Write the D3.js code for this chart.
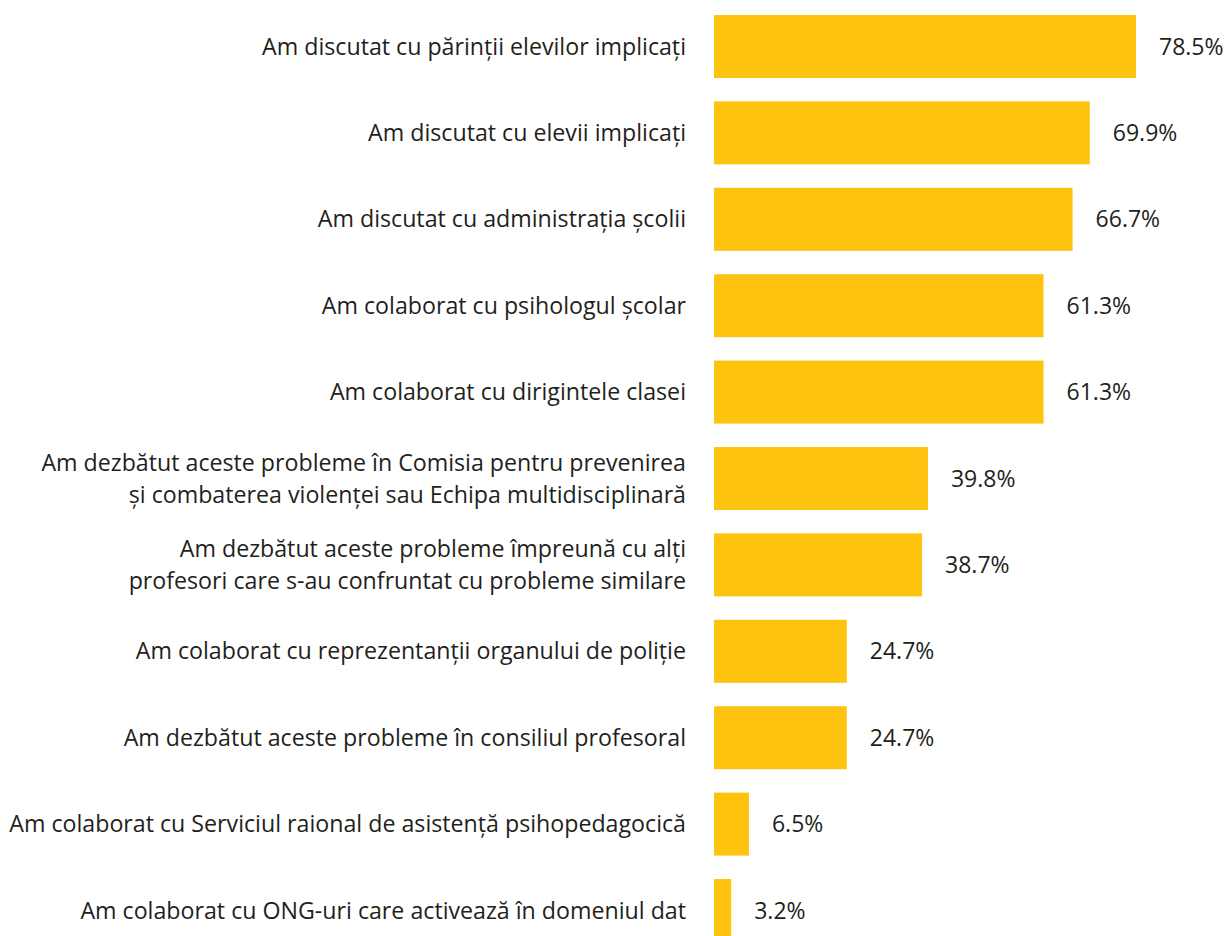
<!DOCTYPE html>
<html>
<head>
<meta charset="utf-8">
<script src="https://cdn.jsdelivr.net/npm/d3@7"></script>
<style>
  body { margin: 0; background: #fff; }
  .label { font-family: "Open Sans", sans-serif; font-size: 23.2px; fill: #231f20; }
  .value { font-family: "Open Sans", sans-serif; font-size: 23px; fill: #231f20; }
</style>
</head>
<body>
<div id="chart"></div>
<script>
// Data
var labels = [
  ["Am discutat cu părinții elevilor implicați"],
  ["Am discutat cu elevii implicați"],
  ["Am discutat cu administrația școlii"],
  ["Am colaborat cu psihologul școlar"],
  ["Am colaborat cu dirigintele clasei"],
  ["Am dezbătut aceste probleme în Comisia pentru prevenirea", "și combaterea violenței sau Echipa multidisciplinară"],
  ["Am dezbătut aceste probleme împreună cu alți", "profesori care s-au confruntat cu probleme similare"],
  ["Am colaborat cu reprezentanții organului de poliție"],
  ["Am dezbătut aceste probleme în consiliul profesoral"],
  ["Am colaborat cu Serviciul raional de asistență psihopedagocică"],
  ["Am colaborat cu ONG-uri care activează în domeniul dat"]
];
var values = [78.5, 69.9, 66.7, 61.3, 61.3, 39.8, 38.7, 24.7, 24.7, 6.5, 3.2];

// Layout
var width = 1228,
  height = 936,
  barLeft = 714,
  labelRight = 686,
  barTop = 15,
  barBottom = 942;

var svg = d3.select("#chart")
  .append("svg")
  .attr("width", width)
  .attr("height", height);

var idx = d3.range(values.length);

var x = d3.scaleLinear()
  .domain([0, 100])
  .range([0, 537.6]);

var y = d3.scaleBand()
  .domain(idx)
  .range([barTop, barBottom])
  .paddingInner(0.271)
  .paddingOuter(0);

// bars
svg.append("g").selectAll("rect")
  .data(idx)
  .enter().append("rect")
  .attr("x", barLeft)
  .attr("y", function(i) { return y(i); })
  .attr("width", function(i) { return x(values[i]); })
  .attr("height", y.bandwidth())
  .attr("fill", "#fec30f");

// value labels
svg.append("g").selectAll("text")
  .data(idx)
  .enter().append("text")
  .attr("class", "value")
  .attr("x", function(i) { return barLeft + x(values[i]) + 23; })
  .attr("y", function(i) { return y(i) + y.bandwidth() / 2; })
  .attr("dy", "0.35em")
  .text(function(i) { return values[i].toFixed(1) + "%"; });

// category labels, one tspan per line
var lineGap = 32;
var cat = svg.append("g").selectAll("text")
  .data(idx)
  .enter().append("text")
  .attr("class", "label")
  .attr("text-anchor", "end")
  .attr("x", labelRight)
  .attr("y", function(i) {
    var n = labels[i].length;
    return y(i) + y.bandwidth() / 2 - (n - 1) * lineGap / 2;
  });

cat.selectAll("tspan")
  .data(function(i) { return labels[i]; })
  .enter().append("tspan")
  .attr("x", labelRight)
  .attr("dy", function(d, j) { return j === 0 ? "0.35em" : lineGap; })
  .text(function(d) { return d; });
</script>
</body>
</html>
